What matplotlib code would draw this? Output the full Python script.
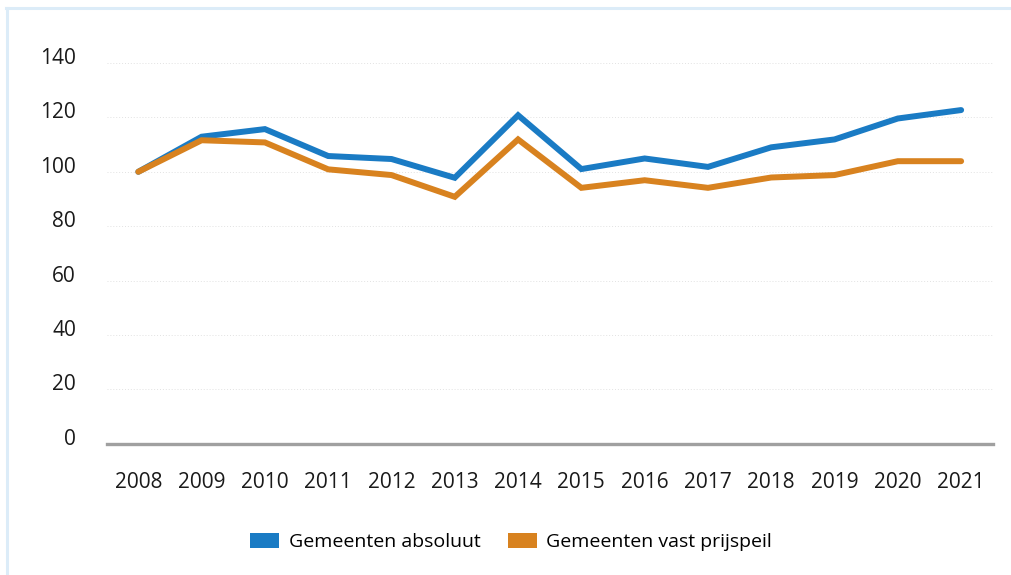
import matplotlib
matplotlib.use('Agg')
import matplotlib.pyplot as plt
import matplotlib.transforms as mtransforms
from matplotlib.lines import Line2D
from matplotlib.patches import Patch

years = ['2008', '2009', '2010', '2011', '2012', '2013', '2014',
         '2015', '2016', '2017', '2018', '2019', '2020', '2021']
absoluut = [100, 112.9, 115.7, 105.8, 104.7, 97.8, 120.8,
            101, 104.9, 101.8, 109, 111.9, 119.6, 122.7]
vast_prijspeil = [100, 111.6, 110.8, 100.9, 98.8, 90.8, 111.9,
                  94.1, 96.9, 94.1, 97.9, 98.8, 103.9, 103.9]
labels = ['Gemeenten absoluut', 'Gemeenten vast prijspeil']
y_ticks = [0, 20, 40, 60, 80, 100, 120, 140]

BLUE = '#1a7bc4'
ORANGE = '#d8821f'

plt.rcParams['font.family'] = ['Open Sans', 'DejaVu Sans']

fig = plt.figure(figsize=(10.12, 5.75), dpi=100)
ax = fig.add_axes([0.1054, 0.2283, 0.8756, 0.6621])

x = list(range(len(years)))
ax.plot(x, absoluut, color=BLUE, lw=4.3, solid_capstyle='round',
        solid_joinstyle='miter', clip_on=False, zorder=3)
ax.plot(x, vast_prijspeil, color=ORANGE, lw=4.3, solid_capstyle='round',
        solid_joinstyle='miter', clip_on=False, zorder=3)

ax.set_xlim(-0.5, len(years) - 0.5)
ax.set_ylim(0, 140)
ax.set_yticks(y_ticks)
ax.set_xticks(x)
ax.set_xticklabels(years)

for v in y_ticks[1:]:
    ax.axhline(v, color='#e2e2e2', lw=0.7, ls=(0, (1, 2)), zorder=1)

for s in ['top', 'right', 'left']:
    ax.spines[s].set_visible(False)
ax.spines['bottom'].set_color('#a0a0a0')
ax.spines['bottom'].set_linewidth(2.4)
ax.spines['bottom'].set_zorder(2)

ax.tick_params(axis='both', length=0, labelsize=15, colors='#1a1a1a')
ax.tick_params(axis='y', pad=22)
ax.tick_params(axis='x', pad=20)

# y labels sit a bit above their gridlines in the original
offset = mtransforms.ScaledTranslation(0, 7 / 100, fig.dpi_scale_trans)
for lab in ax.get_yticklabels():
    lab.set_transform(lab.get_transform() + offset)

handles = [Patch(facecolor=BLUE, edgecolor='none'),
           Patch(facecolor=ORANGE, edgecolor='none')]
fig.legend(handles, labels, loc='center', bbox_to_anchor=(511 / 1012, 1 - 542 / 575),
           ncol=2, frameon=False, fontsize=14, handlelength=1.5,
           handleheight=0.82, handletextpad=0.5, columnspacing=1.4)

# light blue frame, top and left edge
border = '#dcecf8'
fig.add_artist(Line2D([6 / 1012, 1], [1 - 7.5 / 575, 1 - 7.5 / 575],
                      transform=fig.transFigure, color=border, lw=2.2))
fig.add_artist(Line2D([7 / 1012, 7 / 1012], [0, 1 - 7.5 / 575],
                      transform=fig.transFigure, color=border, lw=2.2))

fig.savefig('out.png', dpi=100)
